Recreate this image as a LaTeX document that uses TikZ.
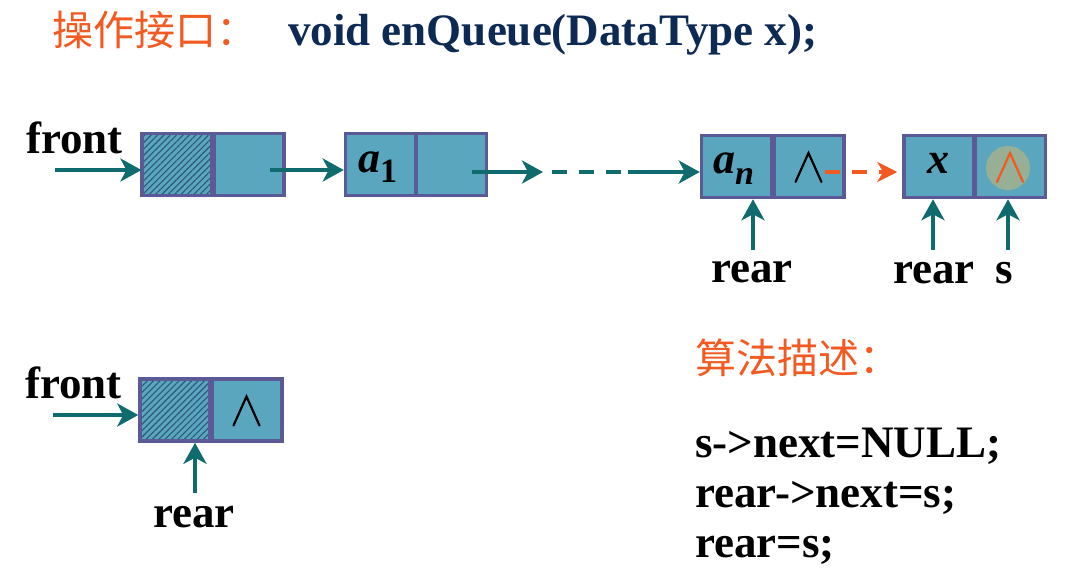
\documentclass[tikz,border=0pt]{standalone}
\usepackage{fontspec}
\setmainfont{Liberation Serif}
\newfontfamily\cjk{Noto Sans CJK SC}
\usetikzlibrary{arrows.meta,patterns.meta,calc}
\definecolor{cellfill}{HTML}{5BA6BF}
\definecolor{cellline}{HTML}{5B5A96}
\definecolor{ptrcol}{HTML}{0F6B6E}
\definecolor{orng}{HTML}{F25A22}
\definecolor{navy}{HTML}{0D2A55}
\definecolor{hatchcol}{HTML}{2C5872}
\definecolor{glow}{HTML}{C9B773}
\newcommand\nullmark[2]{\draw[#2] ($(#1.center)+(-13.5,15.5)$) -- ($(#1.center)+(-0.5,-13.5)$) -- ($(#1.center)+(12.5,15.5)$);}
\begin{document}
\begin{tikzpicture}[x=1pt,y=-1pt,
  cell/.style={draw=cellline,fill=cellfill,line width=3.5pt,minimum width=70pt,minimum height=62pt,inner sep=0pt},
  hcell/.style={draw=cellline,line width=3.5pt,minimum width=70pt,minimum height=62pt,inner sep=0pt,
    preaction={fill=cellfill},pattern={Lines[angle=45,distance=4.5pt,line width=1.1pt]},pattern color=hatchcol},
  ptr/.style={draw=ptrcol,line width=4pt,-{Stealth[length=21pt,width=23pt,inset=6pt]}},
  ptrline/.style={draw=ptrcol,line width=4pt},
  optr/.style={draw=orng,line width=4pt,dash pattern=on 15pt off 12pt,-{Stealth[length=20pt,width=20pt,inset=6pt]}},
  nullline/.style={line width=2.2pt,line cap=round,line join=miter},
  big/.style={font=\fontsize{45}{52}\selectfont\bfseries,inner sep=0pt},
  cjkt/.style={font=\fontsize{41}{48}\selectfont\cjk,text=orng,inner sep=0pt},
  celltxt/.style={font=\fontsize{44}{50}\selectfont\bfseries\itshape,inner sep=0pt}
]
\useasboundingbox (0,0) rectangle (1076,579);
\fill[white] (0,0) rectangle (1076,579);

% title
\node[cjkt,anchor=base west] (t1) at (52,45) {操作接口：};
\node[big,text=navy,anchor=base west] (t2) at (288,45) {void enQueue(DataType x);};

% top list cells
\node[hcell] (h1) at (177,164.5) {};
\node[cell] (h2) at (249,164.5) {};
\node[cell] (a11) at (380.5,164.5) {};
\node[cell] (a12) at (451.5,164.5) {};
\node[cell] (an1) at (736.5,166.5) {};
\node[cell] (an2) at (809,166.5) {};
\node[cell] (x1) at (939,166.5) {};
\node[cell] (x2) at (1010.5,166.5) {};

% redraw hatched border on top
\node[draw=cellline,line width=3.5pt,minimum width=70pt,minimum height=62pt,inner sep=0pt] at (h1) {};

% cell contents
\node[celltxt,anchor=base west] (ta1) at (358,172) {a\raisebox{-10pt}{\fontsize{34}{34}\selectfont\upshape 1}};
\node[celltxt,anchor=base west] (tan) at (713,173) {a\raisebox{-11pt}{\fontsize{34}{34}\selectfont n}};
\node[celltxt,anchor=base] (tx) at (938,173) {x};
\fill[glow,opacity=0.55] (1008,168) circle (22pt);
\nullmark{an2}{nullline,black}
\nullmark{x2}{nullline,orng}

% labels top
\node[big,anchor=base] (front1) at (74.5,153) {front};
\node[big,anchor=base] (rear1) at (752,282) {rear};
\node[big,anchor=base] (rear2) at (934,283) {rear};
\node[big,anchor=base] (s1) at (1004,283) {s};

% connectors top
\coordinate (f1) at (55,170);
\draw[ptr] (f1) -- (f1 -| h1.west);
\coordinate (p1) at (270,170);
\draw[ptr] (p1) -- (p1 -| a11.west);
\coordinate (m1) at (472,172);
\coordinate (m2) at (543,172);
\draw[ptr] (m1) -- (m2);
\coordinate (m3) at (552,172);
\coordinate (m4) at (623,172);
\draw[ptrline,dash pattern=on 15pt off 12pt] (m3) -- (m4);
\coordinate (m5) at (628,172);
\draw[ptr] (m5) -- (m5 -| an1.west);
\coordinate (o1) at (825,172);
\draw[optr,shorten >=5pt] (o1) -- (o1 -| x1.west);
\coordinate (r1) at (753,250);
\draw[ptr] (r1) -- (r1 |- an1.south);
\coordinate (r2) at (933,250);
\draw[ptr] (r2) -- (r2 |- x1.south);
\coordinate (r3) at (1008,250);
\draw[ptr] (r3) -- (r3 |- x2.south);

% bottom list
\node[hcell] (b1) at (175,410) {};
\node[cell] (b2) at (247,410) {};
\node[draw=cellline,line width=3.5pt,minimum width=70pt,minimum height=62pt,inner sep=0pt] at (b1) {};
\nullmark{b2}{nullline,black}
\node[big,anchor=base] (front2) at (73.5,398) {front};
\node[big,anchor=base] (rear3) at (194,527) {rear};
\coordinate (fb) at (53,415);
\draw[ptr] (fb) -- (fb -| b1.west);
\coordinate (rb) at (195,493);
\draw[ptr] (rb) -- (rb |- b1.south);

% algorithm
\node[cjkt,anchor=base west] (alg) at (695,373) {算法描述：};
\node[big,anchor=base west] (c1) at (695,457) {s->next=NULL;};
\node[big,anchor=base west] (c2) at (695,507) {rear->next=s;};
\node[big,anchor=base west] (c3) at (695,557) {rear=s;};
\end{tikzpicture}
\end{document}
